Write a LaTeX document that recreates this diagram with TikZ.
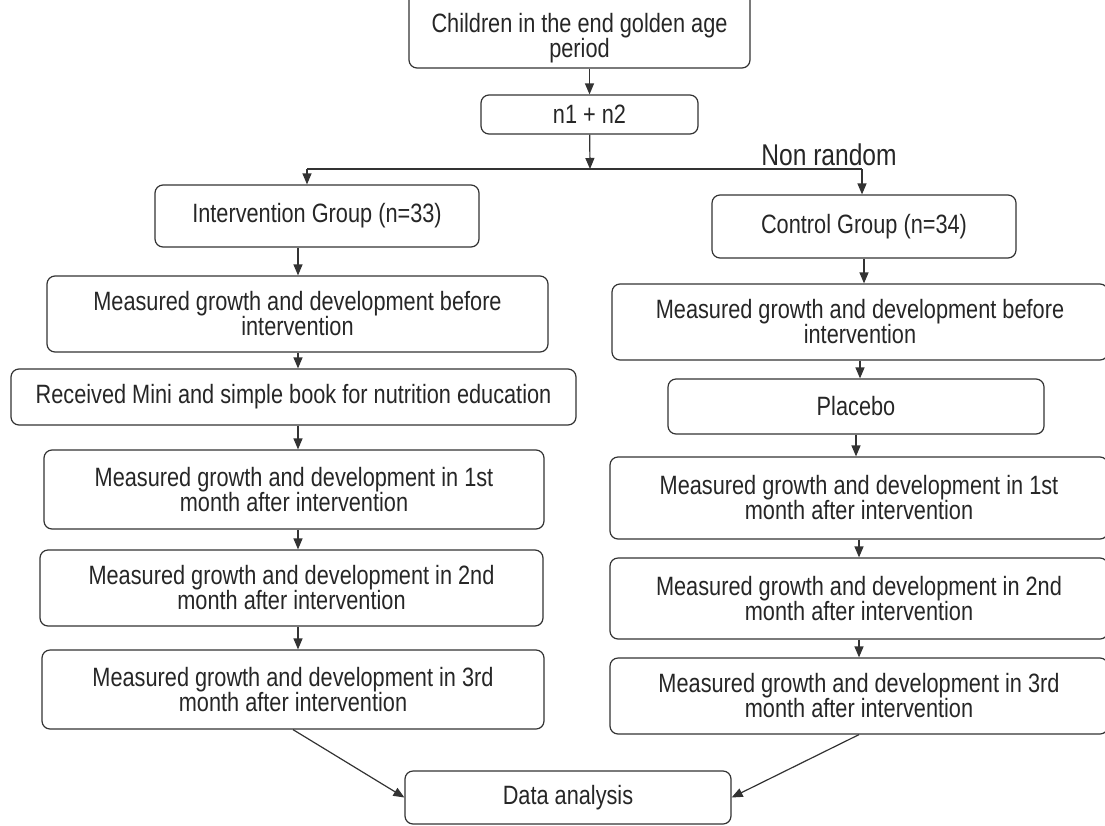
\documentclass[tikz,border=0pt]{standalone}
\usepackage{fontspec}
\setmainfont{Liberation Sans}[FakeStretch=0.82]
\usetikzlibrary{arrows.meta}

\tikzset{
  box/.style={draw=black!80, rounded corners=8pt, align=center, inner sep=0pt,
    text=black!85, font=\fontsize{26.5}{25}\selectfont},
  arr/.style={draw=black!80, -{Triangle[length=11pt,width=9pt]}},
}

\begin{document}
\begin{tikzpicture}[x=1pt,y=1pt,yscale=-1,line width=1.2pt]
    \useasboundingbox (0,0) rectangle (1105,825); %page of 1105 x 825

    %Boxes: top of the chart
    \node[box, minimum width=341pt, minimum height=84pt, text height=68pt] (top) at (579.5,26) {Children in the end golden age\\period};
    \node[box, minimum width=217pt, minimum height=39pt] (n12) at (589.5,114.5) {n1 + n2};
    % Text Node
    \node[text=black!85, font=\fontsize{30}{30}\selectfont] (nr) at (829,155) {Non random};

    %Boxes: left column
    \node[box, minimum width=324pt, minimum height=62pt] (ig) at (317,216) {Intervention Group (n=33)};
    \node[box, minimum width=501pt, minimum height=76pt] (bl) at (297.5,314) {Measured growth and development before\\intervention};
    \node[box, minimum width=565pt, minimum height=56pt] (rc) at (293.5,397) {Received Mini and simple book for nutrition education};
    \node[box, minimum width=500pt, minimum height=79pt] (l1) at (294,489.5) {Measured growth and development in 1st\\month after intervention};
    \node[box, minimum width=503pt, minimum height=76pt] (l2) at (291.5,588) {Measured growth and development in 2nd\\month after intervention};
    \node[box, minimum width=502pt, minimum height=79pt] (l3) at (293,689.5) {Measured growth and development in 3rd\\month after intervention};

    %Boxes: right column
    \node[box, minimum width=304pt, minimum height=63pt] (cg) at (864,226.5) {Control Group (n=34)};
    \node[box, minimum width=496pt, minimum height=76pt] (br) at (860,322) {Measured growth and development before\\intervention};
    \node[box, minimum width=376pt, minimum height=55pt] (pl) at (856,406.5) {Placebo};
    \node[box, minimum width=498pt, minimum height=82pt] (r1) at (859,498) {Measured growth and development in 1st\\month after intervention};
    \node[box, minimum width=498pt, minimum height=81pt] (r2) at (859,598.5) {Measured growth and development in 2nd\\month after intervention};
    \node[box, minimum width=498pt, minimum height=76pt] (r3) at (859,696) {Measured growth and development in 3rd\\month after intervention};

    \node[box, minimum width=326pt, minimum height=53pt] (da) at (568,797.5) {Data analysis};

    %Split
    \coordinate (split) at (590,169);
    \coordinate (splitL) at (307,169);
    \coordinate (splitR) at (862,169);
    \coordinate (colL) at (298,0);

    \draw[arr] (top.south -| n12) -- (n12);
    \draw[arr] (n12) -- (split);
    \draw[draw=black!80] (splitL) -- (splitR);
    \draw[arr] (splitL) -- (splitL |- ig.north);
    \draw[arr] (splitR) -- (splitR |- cg.north);

    %Arrows: left column
    \draw[arr] (ig.south -| colL) -- (bl.north -| colL);
    \draw[arr] (bl.south -| colL) -- (rc.north -| colL);
    \draw[arr] (rc.south -| colL) -- (l1.north -| colL);
    \draw[arr] (l1.south -| colL) -- (l2.north -| colL);
    \draw[arr] (l2.south -| colL) -- (l3.north -| colL);

    %Arrows: right column
    \draw[arr] (cg) -- (cg |- br.north);
    \draw[arr] (br) -- (br |- pl.north);
    \draw[arr] (pl) -- (pl |- r1.north);
    \draw[arr] (r1) -- (r1 |- r2.north);
    \draw[arr] (r2) -- (r2 |- r3.north);

    %Arrows: to the analysis
    \draw[arr] (l3.south) -- (da.west);
    \draw[arr] (r3.south) -- (da.east);

\end{tikzpicture}
\end{document}
